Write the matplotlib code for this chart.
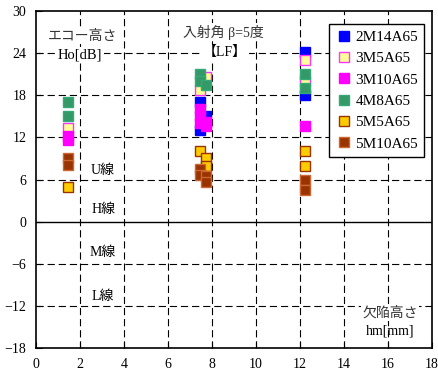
import matplotlib
matplotlib.use("Agg")
import matplotlib.pyplot as plt

plt.rcParams['font.family'] = ['Liberation Serif', 'Noto Sans CJK JP']

# series: (x, y)
s_2m14_x = [7.45, 7.75, 7.45, 12.25, 12.25]
s_2m14_y = [17.0, 15.1, 13.1, 24.2, 18.0]
s_3m5_x = [1.45, 7.45, 7.75, 12.25, 12.25]
s_3m5_y = [13.4, 18.7, 20.6, 23.1, 20.0]
s_3m10_x = [1.45, 1.45, 7.45, 7.45, 7.45, 7.75, 7.75, 12.25]
s_3m10_y = [12.2, 11.7, 16.0, 15.0, 14.0, 14.2, 13.6, 13.7]
s_4m8_x = [1.45, 1.45, 7.45, 7.45, 7.75, 12.25, 12.25]
s_4m8_y = [17.0, 15.1, 21.1, 20.0, 19.5, 21.1, 19.0]
s_5m5_x = [1.45, 7.45, 7.75, 7.75, 12.25, 12.25]
s_5m5_y = [5.0, 10.1, 9.1, 7.9, 10.1, 8.0]
s_5m10_x = [1.45, 1.45, 7.45, 7.45, 7.75, 7.75, 12.25, 12.25]
s_5m10_y = [9.1, 8.1, 7.5, 6.6, 6.5, 5.6, 5.9, 4.5]

names = ['2M14A65', '3M5A65', '3M10A65', '4M8A65', '5M5A65', '5M10A65']
xs = [s_2m14_x, s_3m5_x, s_3m10_x, s_4m8_x, s_5m5_x, s_5m10_x]
ys = [s_2m14_y, s_3m5_y, s_3m10_y, s_4m8_y, s_5m5_y, s_5m10_y]
faces = ['#0000FF', '#FFFF99', '#FF00FF', '#339966', '#FFCC00', '#993300']
edges = ['#0000FF', '#FF33FF', '#FF00FF', '#33AA77', '#993300', '#CC6633']

xticks = list(range(0, 19, 2))
yticks = list(range(-18, 31, 6))

fig = plt.figure(figsize=(4.39, 3.85), dpi=100)
ax = fig.add_axes([0.082, 0.096, 0.902, 0.875])

dash = (0, (6.5, 3.5))
for v in range(2, 18, 2):
    ax.axvline(v, color='black', lw=0.8, ls=dash, zorder=1)
for v in [24, 18, 12, 6, -6, -12]:
    ax.axhline(v, color='black', lw=0.8, ls=dash, zorder=1)
ax.axhline(0, color='black', lw=1.0, zorder=1)

for x, y, n, fc, ec in zip(xs, ys, names, faces, edges):
    ax.plot(x, y, ls='none', marker='s', ms=7.5, mfc=fc, mec=ec, mew=1,
            label=n, zorder=3)

ax.set_xlim(0, 18)
ax.set_ylim(-18, 30)
ax.set_xticks(xticks)
ax.set_yticks(yticks)
ax.tick_params(direction='in', labelsize=10, length=4, pad=7)
for sp in ax.spines.values():
    sp.set_linewidth(1.2)

box = dict(facecolor='white', edgecolor='none', pad=1)
ax.text(2.1, 26.4, 'エコー高さ', ha='center', va='center', fontsize=10, bbox=box, color='#333333')
ax.text(2.0, 23.7, 'Ho[dB]', ha='center', va='center', fontsize=10.5, bbox=box)
ax.text(8.5, 27.0, '入射角 β=5度', ha='center', va='center', fontsize=10, bbox=box, color='#333333')
ax.text(8.6, 24.1, '【LF】', ha='center', va='center', fontsize=10, bbox=box)
ax.text(3.05, 7.3, 'U線', ha='center', va='center', fontsize=10)
ax.text(3.05, 1.7, 'H線', ha='center', va='center', fontsize=10)
ax.text(3.05, -4.4, 'M線', ha='center', va='center', fontsize=10)
ax.text(3.05, -10.6, 'L線', ha='center', va='center', fontsize=10)
ax.text(16.1, -13.0, '欠陥高さ', ha='center', va='center', fontsize=10, bbox=box, color='#333333')
ax.text(16.1, -15.6, 'hm[mm]', ha='center', va='center', fontsize=10)

leg = ax.legend(loc='upper right', bbox_to_anchor=(0.988, 0.97), fontsize=11,
                fancybox=False, framealpha=1, edgecolor='black',
                handletextpad=0.2, handlelength=1.1, labelspacing=0.5,
                borderpad=0.4, borderaxespad=0.2)
leg.get_frame().set_linewidth(1.0)

fig.savefig('out.png', dpi=100)
